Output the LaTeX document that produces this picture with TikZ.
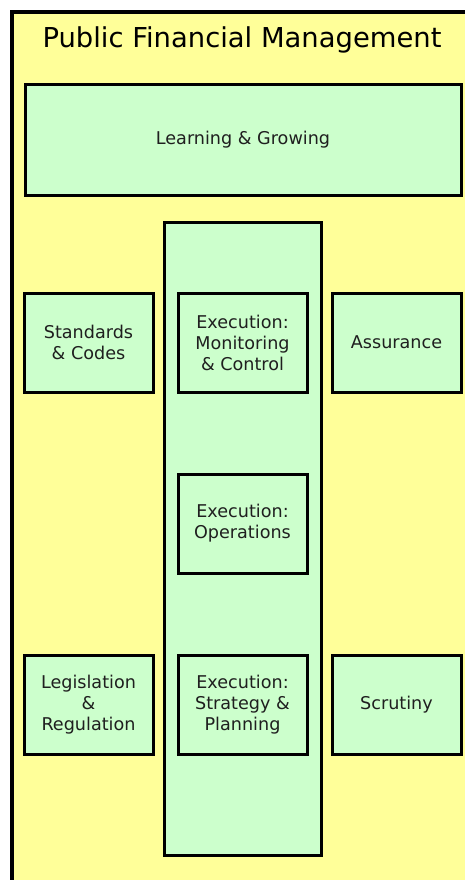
\documentclass[tikz,border=0pt]{standalone}
\usepackage{fontspec}
\setmainfont{DejaVu Sans}
\definecolor{pfmyellow}{HTML}{FFFF99}
\definecolor{pfmgreen}{HTML}{CCFFCC}
\begin{document}
\begin{tikzpicture}[x=1pt,y=-1pt,
  frame/.style={draw=black,line width=3.2pt,fill=pfmyellow},
  area/.style={draw=black,line width=3pt,fill=pfmgreen},
  box/.style={area,minimum width=129pt,minimum height=99pt,inner sep=0pt,
    align=center,font=\fontsize{17.6}{21}\selectfont,text=black!88}]
  \useasboundingbox (0,0) rectangle (465,880);
  % outer panel running off the right and bottom edges
  \fill[white] (0,0) rectangle (465,880);
  \draw[frame] (12,12) rectangle (480,895);
  \node (title) at (242,39.5) {\fontsize{27.4}{32}\selectfont Public Financial Management};
  % top band
  \node[box,minimum width=436pt,minimum height=110pt] (learn) at (243,140) {Learning \& Growing};
  % central execution column
  \node[area,minimum width=157pt,minimum height=633pt,inner sep=0pt] (column) at (242.5,538.5) {};
  % side and inner boxes
  \node[box] (standards) at (88.5,342.5) {Standards\\\& Codes};
  \node[box] (monitor) at (242.5,342.5) {Execution:\\Monitoring\\\& Control};
  \node[box] (assure) at (396.5,342.5) {Assurance};
  \node[box] (ops) at (242.5,523.5) {Execution:\\Operations};
  \node[box] (legis) at (88.5,705) {Legislation\\\&\\Regulation};
  \node[box] (strategy) at (242.5,705) {Execution:\\Strategy \&\\Planning};
  \node[box] (scrutiny) at (396.5,705) {Scrutiny};
\end{tikzpicture}
\end{document}
